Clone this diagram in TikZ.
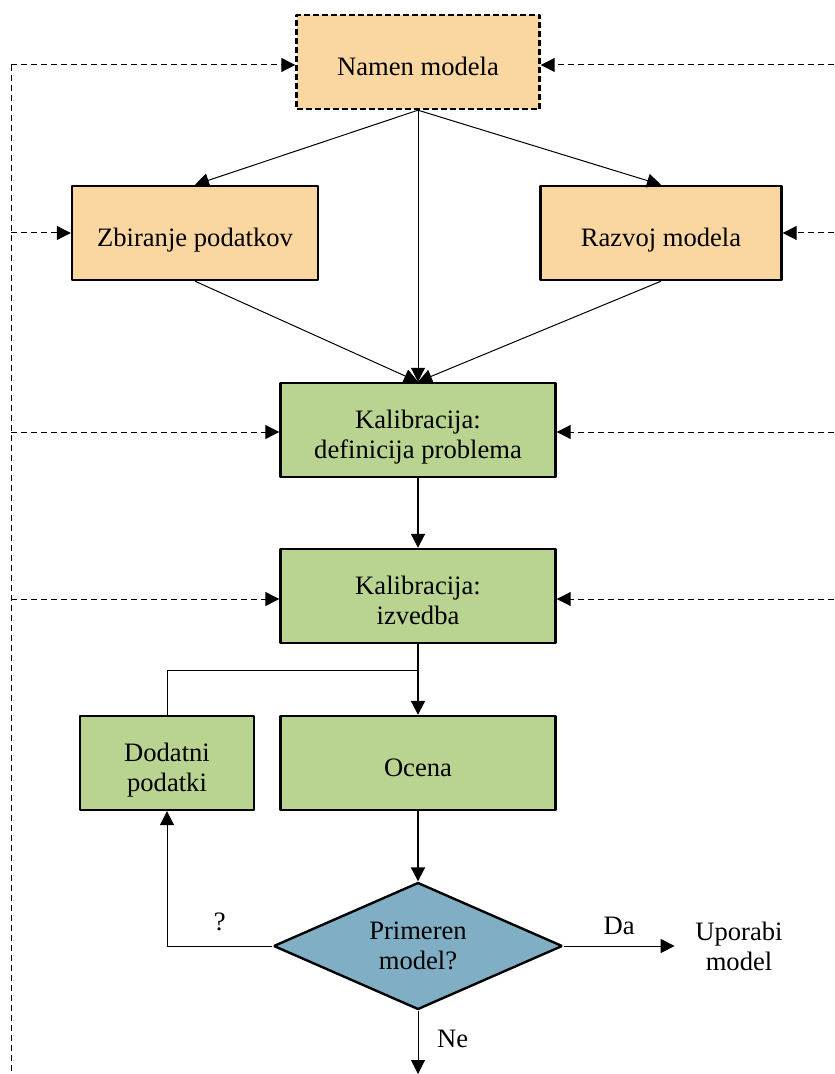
\documentclass[tikz,border=0pt]{standalone}
\usepackage{fontspec}
\setmainfont{Liberation Serif}
\usetikzlibrary{shapes.geometric,arrows.meta}
\definecolor{boxorange}{RGB}{250,215,160}
\definecolor{boxgreen}{RGB}{184,212,144}
\definecolor{boxblue}{RGB}{128,174,196}

\begin{document}
\begin{tikzpicture}[x=0.5pt,y=-0.5pt,>={Triangle[length=7pt,width=7pt]},line join=bevel,
  every node/.style={font=\fontsize{13.3}{15}\selectfont,align=center},
  box/.style={draw,line width=1.2pt,minimum height=47pt,inner sep=2pt},
  oneline/.style={text height=13.2pt,text depth=0pt},
  twoline/.style={text height=28.2pt,text depth=0pt},
  feed/.style={dashed,dash pattern=on 3pt off 2pt,line width=0.5pt,->}]
\useasboundingbox (0,0) rectangle (834,1074);
%%
  \node (node_0) at (418,62) [box,oneline,fill=boxorange,dash pattern=on 3pt off 1.5pt,minimum width=121.5pt] {Namen modela};
  \node (node_1) at (195,233) [box,oneline,fill=boxorange,minimum width=123pt] {Zbiranje podatkov};
  \node (node_2) at (661,233) [box,oneline,fill=boxorange,minimum width=120.5pt] {Razvoj modela};
  \node (node_3) at (418,430) [box,twoline,fill=boxgreen,minimum width=137.5pt] {Kalibracija:\\definicija problema};
  \node (node_4) at (418,596) [box,twoline,fill=boxgreen,minimum width=137.5pt] {Kalibracija:\\izvedba};
  \node (node_5) at (167,763) [box,twoline,fill=boxgreen,minimum width=87pt] {Dodatni\\podatki};
  \node (node_6) at (418,763) [box,oneline,fill=boxgreen,minimum width=137.5pt] {Ocena};
  \node (node_7) at (418,946) [diamond,draw,line width=1.2pt,fill=boxblue,inner sep=0pt,aspect=2.3,minimum width=144.5pt,minimum height=63.5pt] {Primeren\\model?};
  \node (node_8) at (739,946) [inner sep=0pt,minimum width=64pt] {Uporabi\\model};

  \coordinate (left_0) at (11,65);
  \coordinate (left_1) at (11,233);
  \coordinate (left_2) at (11,432);
  \coordinate (left_3) at (11,599);
  \coordinate (left_end) at (11,1074);
  \coordinate (right_0) at (834,65);
  \coordinate (right_1) at (834,233);
  \coordinate (right_2) at (834,432);
  \coordinate (right_3) at (834,599);
  \coordinate (join) at (418,670);
  \coordinate (out) at (418,1074);

  \draw [black,->,line width=0.5pt] (node_0.south) -- (node_1.north);
  \draw [black,->,line width=0.5pt] (node_0.south) -- (node_2.north);
  \draw [black,->,line width=0.5pt] (node_0.south) -- (node_3.north);
  \draw [black,->,line width=0.5pt] (node_1.south) -- (node_3.north);
  \draw [black,->,line width=0.5pt] (node_2.south) -- (node_3.north);
  \draw [black,->,line width=1pt] (node_3) -- (node_4);
  \draw [black,->,line width=1pt] (node_4) -- (node_6);
  \draw [black,line width=0.5pt] (node_5.north) |- (join);
  \draw [black,->,line width=1pt] (node_6) -- (node_7);
  \draw [black,->,line width=0.5pt] (node_7.west) -| node [pos=0.25,above=4pt] {?} (node_5.south);
  \draw [black,->,line width=0.5pt] (node_7.east) -- node [above=2pt] {Da} (node_8.west);
  \draw [black,->,line width=0.5pt] (node_7.south) -- node [pos=0.45,right=6pt] {Ne} (out);
%
  \draw [feed,-] (left_0) -- (left_end);
  \draw [feed] (left_0) -- (node_0.west |- left_0);
  \draw [feed] (left_1) -- (node_1.west |- left_1);
  \draw [feed] (left_2) -- (node_3.west |- left_2);
  \draw [feed] (left_3) -- (node_4.west |- left_3);
  \draw [feed] (right_0) -- (node_0.east |- right_0);
  \draw [feed] (right_1) -- (node_2.east |- right_1);
  \draw [feed] (right_2) -- (node_3.east |- right_2);
  \draw [feed] (right_3) -- (node_4.east |- right_3);
%
\end{tikzpicture}
\end{document}
